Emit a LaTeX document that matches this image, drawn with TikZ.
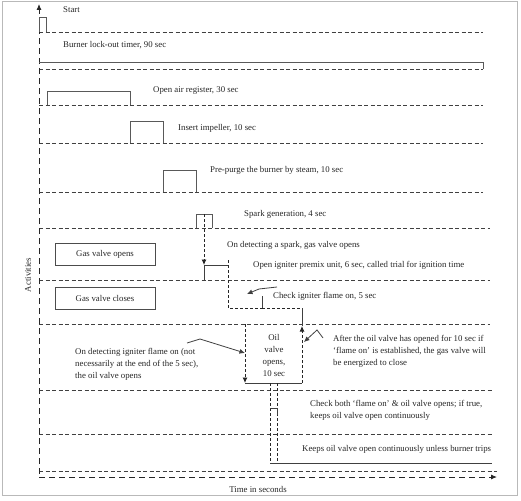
\documentclass[tikz,border=0pt]{standalone}
\usepackage{fontspec}
\setmainfont{Liberation Serif}
\usetikzlibrary{arrows.meta}

\tikzset{
  rowline/.style={black!75, line width=0.75pt, dash pattern=on 4pt off 2.5pt},
  axisline/.style={black!85, line width=0.9pt, dash pattern=on 6pt off 4pt, -{Latex[length=6pt,width=5pt]}},
  pulse/.style={black!65, line width=0.8pt},
  linkdash/.style={black!85, line width=0.8pt, dash pattern=on 3pt off 2pt},
  linksolid/.style={black!75, line width=0.8pt},
  tip/.style={-{Latex[length=5.5pt,width=5pt]}},
  valvebox/.style={draw=black!70, line width=0.75pt, minimum width=100pt, minimum height=22pt, inner sep=0pt},
  label/.style={anchor=west, inner sep=0pt, align=left}
}

\begin{document}
\begin{tikzpicture}[x=1pt,y=-1pt, every node/.style={font=\fontsize{8.8}{12}\selectfont, text=black!85}]
	\useasboundingbox (0,0) rectangle (521,500);
	\draw[gray!55, line width=1.6pt] (2.5,1.5) rectangle (517.5,495.5);

	% rows
	\foreach \y/\xe in {32/483, 69/483, 105/483, 143/483, 192/483, 228/490, 280/490, 324/490, 390/492, 434/492, 471/497}{
		\draw[rowline] (39,\y) -- (\xe,\y);
	}

	% axes
	\draw[axisline] (39,474) -- (39,4);
	\draw[axisline] (39,477) -- (497,477);
	\node[rotate=90] (act) at (28,275) {Activities};
	\node (time) at (258,489) {Time in seconds};

	% pulses
	\draw[pulse] (39,32) -- (39,17) -- (46,17) -- (46,32);
	\draw[pulse] (39,62) -- (483,62) -- (483,69);
	\draw[pulse] (47,105) -- (47,91) -- (130,91) -- (130,105);
	\draw[pulse] (130,143) -- (130,121) -- (163,121) -- (163,143);
	\draw[pulse] (163,192) -- (163,170) -- (196,170) -- (196,192);
	\draw[pulse] (196,228) -- (196,214) -- (212,214) -- (212,228);

	\node[label] (start) at (63,10) {Start};
	\node[label] (lockout) at (63,45) {Burner lock-out timer, 90 sec};
	\node[label] (air) at (153,91) {Open air register, 30 sec};
	\node[label] (impeller) at (178,128) {Insert impeller, 10 sec};
	\node[label] (purge) at (210,170) {Pre-purge the burner by steam, 10 sec};
	\node[label] (spark) at (244,214) {Spark generation, 4 sec};
	\node[label] (detspark) at (227,245) {On detecting a spark, gas valve opens};
	\node[label] (premix) at (253,265) {Open igniter premix unit, 6 sec, called trial for ignition time};
	\node[label] (checkflame) at (273,296) {Check igniter flame on, 5 sec};
	\node[label] (detflame) at (75,364) {On detecting igniter flame on (not\\necessarily at the end of the 5 sec),\\the oil valve opens};
	\node[label] (after) at (333,351) {After the oil valve has opened for 10 sec if\\`flame on' is established, the gas valve will\\be energized to close};
	\node[label] (checkboth) at (310,410) {Check both `flame on' \& oil valve opens; if true,\\keeps oil valve open continuously};
	\node[label] (keeps) at (302,449) {Keeps oil valve open continuously unless burner trips};
	\node[align=center, inner sep=0pt] (oil) at (274,355) {Oil\\valve\\opens,\\10 sec};

	\node[valvebox] (gasopen) at (105,254) {Gas valve opens};
	\node[valvebox] (gasclose) at (105,298) {Gas valve closes};

	% timing links
	\coordinate (sp) at (204,214);
	\coordinate (spdown) at (204,265);
	\coordinate (spfoot) at (204,280);
	\coordinate (pmtop) at (228,265);
	\coordinate (pmup) at (228,260);
	\coordinate (pmfoot) at (228,308);
	\coordinate (ckfoot) at (262,308);
	\coordinate (cktop) at (262,296);
	\coordinate (ckend) at (302,308);
	\coordinate (gcarrow) at (302,326);
	\coordinate (oilleft) at (245,324);
	\coordinate (oilbl) at (245,383);
	\coordinate (oilbr) at (302,383);
	\coordinate (fa) at (270,383);
	\coordinate (fb) at (277,383);
	\coordinate (fafoot) at (270,463);
	\coordinate (fbfoot) at (277,461);
	\coordinate (keepend) at (492,463);

	\draw[linkdash, tip] (sp) -- (spdown);
	\draw[linksolid] (spdown) -- (spfoot);
	\draw[linksolid] (spdown) -- (pmtop);
	\draw[linkdash] (pmup) -- (pmfoot) -- (ckfoot);
	\draw[linksolid] (cktop) -- (ckfoot);
	\draw[linkdash] (ckfoot) -- (ckend);
	\draw[linksolid] (ckend) -- (gcarrow);
	\draw[linkdash, tip] (oilbr) -- (gcarrow);
	\draw[linkdash, tip] (oilleft) -- (oilbl);
	\draw[linksolid] (oilbl) -- (oilbr);
	\draw[linkdash] (fa) -- (fafoot);
	\draw[linkdash] (fb) -- (fbfoot);
	\draw[linksolid] (270,408) -- (277,408) -- (277,415);
	\draw[linksolid] (fafoot) -- (keepend);

	% pointers
	\draw[linksolid, tip] (277,287) -- (259,289) -- (247,294);
	\draw[linksolid, tip] (187,343) -- (200,339) -- (245,353);
	\draw[linksolid, tip] (323,338) -- (317,330) -- (304,342);
\end{tikzpicture}
\end{document}
